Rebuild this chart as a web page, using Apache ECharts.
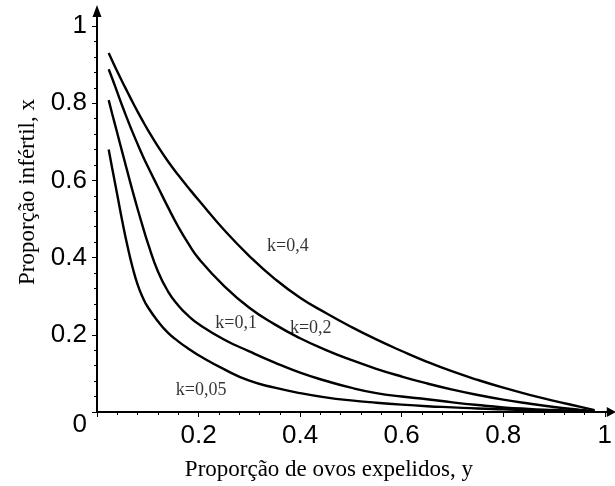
<!DOCTYPE html>
<html>
<head>
<meta charset="utf-8">
<script src="https://cdn.jsdelivr.net/npm/echarts@6/dist/echarts.min.js"></script>
<style>
  html, body { margin: 0; padding: 0; background: #fff; }
  #chart { width: 615px; height: 486px; }
</style>
</head>
<body>
<div id="chart"></div>
<script>
// Proportion of eggs expelled (y) – shared abscissa for every curve
const propExpelled = [0.023, 0.03, 0.04, 0.05, 0.06, 0.07, 0.08, 0.09, 0.10, 0.12, 0.14, 0.16, 0.18, 0.20,
  0.25, 0.30, 0.35, 0.40, 0.45, 0.50, 0.55, 0.60, 0.65, 0.70, 0.75, 0.80, 0.85, 0.90, 0.95, 0.98];

// Infertile proportion (x) for each aggregation parameter k
const infertileK040 = [0.930, 0.910, 0.882, 0.855, 0.829, 0.803, 0.778, 0.754, 0.731, 0.688, 0.649, 0.614, 0.581, 0.549,
  0.472, 0.404, 0.345, 0.296, 0.257, 0.221, 0.188, 0.158, 0.130, 0.105, 0.083, 0.063, 0.045, 0.029, 0.014, 0.005];
const infertileK020 = [0.888, 0.864, 0.828, 0.792, 0.758, 0.725, 0.694, 0.664, 0.636, 0.583, 0.530, 0.480, 0.436, 0.398,
  0.327, 0.270, 0.227, 0.191, 0.161, 0.135, 0.112, 0.092, 0.074, 0.058, 0.044, 0.032, 0.022, 0.013, 0.006, 0.002];
const infertileK010 = [0.808, 0.772, 0.722, 0.672, 0.622, 0.573, 0.526, 0.481, 0.438, 0.364, 0.312, 0.276, 0.249, 0.228,
  0.188, 0.157, 0.128, 0.102, 0.081, 0.063, 0.049, 0.040, 0.033, 0.025, 0.018, 0.012, 0.008, 0.005, 0.002, 0.001];
const infertileK005 = [0.680, 0.631, 0.562, 0.493, 0.430, 0.375, 0.330, 0.297, 0.272, 0.235, 0.205, 0.183, 0.164, 0.147,
  0.111, 0.081, 0.063, 0.049, 0.038, 0.030, 0.024, 0.019, 0.015, 0.012, 0.009, 0.007, 0.005, 0.003, 0.002, 0.001];

const curveNames = ['k=0,4', 'k=0,2', 'k=0,1', 'k=0,05'];
const curveValues = [infertileK040, infertileK020, infertileK010, infertileK005];

// Anchor of each curve caption, in data units [y, x]
const captionAnchors = [[0.376, 0.429], [0.421, 0.218], [0.274, 0.229], [0.205, 0.057]];

// Tick labels
const xTickLabels = [0.2, 0.4, 0.6, 0.8, 1];
const yTickLabels = [0, 0.2, 0.4, 0.6, 0.8, 1];
const majorTicks = [0, 0.2, 0.4, 0.6, 0.8, 1];

const tickFont = 'Liberation Sans, Arial, sans-serif';
const serifFont = 'Liberation Serif, Times New Roman, serif';

// Arrow heads drawn as axis-line end symbols (head plus a short stem)
const yArrow = 'path://M4.5,0 L9,12 L5.5,12 L5.5,21 L3.5,21 L3.5,12 L0,12 Z';
const xArrow = 'path://M5,0 L10,9 L6,9 L6,11 L4,11 L4,9 L0,9 Z';

const chart = echarts.init(document.getElementById('chart'), null, { renderer: 'canvas' });

const lineSeries = curveNames.map((name, i) => ({
  name: name,
  type: 'line',
  data: propExpelled.map((v, j) => [v, curveValues[i][j]]),
  showSymbol: false,
  smooth: 0.5,
  lineStyle: { color: '#000', width: 2.4 },
  silent: true,
  z: 3
}));

const captionSeries = {
  type: 'scatter',
  symbolSize: 0,
  silent: true,
  z: 5,
  data: curveNames.map((name, i) => ({ name: name, value: captionAnchors[i] })),
  label: {
    show: true,
    position: 'inside',
    formatter: '{b}',
    color: '#000',
    fontFamily: serifFont,
    fontSize: 18
  }
};

chart.setOption({
  animation: false,
  backgroundColor: '#fff',
  grid: { left: 97, right: 10, top: 26, bottom: 74, containLabel: false },
  xAxis: {
    type: 'value',
    min: 0, max: 1, interval: 0.2,
    name: 'Proporção de ovos expelidos, y',
    nameLocation: 'middle',
    nameGap: 46,
    nameTextStyle: { fontFamily: serifFont, fontSize: 23, color: '#000', padding: [0, 44, 0, 0] },
    axisLine: {
      show: true, onZero: false,
      lineStyle: { color: '#000', width: 2 },
      symbol: ['none', xArrow], symbolSize: [10, 11], symbolOffset: [0, 5.5]
    },
    axisTick: { show: true, length: 5, customValues: majorTicks, lineStyle: { color: '#000', width: 1 } },
    minorTick: { show: true, splitNumber: 5, length: 3, lineStyle: { color: '#000', width: 1 } },
    axisLabel: {
      customValues: xTickLabels,
      margin: 11,
      color: '#000', fontFamily: tickFont, fontSize: 26,
      formatter: v => String(v)
    },
    splitLine: { show: false }
  },
  yAxis: {
    type: 'value',
    min: 0, max: 1, interval: 0.2,
    name: 'Proporção infértil, x',
    nameLocation: 'middle',
    nameRotate: 90,
    nameGap: 58,
    nameTextStyle: { fontFamily: serifFont, fontSize: 23, color: '#000', padding: [0, 0, 0, 54] },
    axisLine: {
      show: true, onZero: false,
      lineStyle: { color: '#000', width: 2 },
      symbol: ['none', yArrow], symbolSize: [9, 21], symbolOffset: [0, 10.5]
    },
    axisTick: { show: true, length: 5, customValues: majorTicks, lineStyle: { color: '#000', width: 1 } },
    minorTick: { show: true, splitNumber: 5, length: 3, lineStyle: { color: '#000', width: 1 } },
    axisLabel: {
      customValues: yTickLabels,
      margin: 10,
      color: '#000', fontFamily: tickFont, fontSize: 26,
      formatter: v => (v === 0 ? '{o|0}' : String(v)),
      rich: { o: { padding: [26, 0, 0, 0], fontFamily: tickFont, fontSize: 26, color: '#000' } }
    },
    splitLine: { show: false }
  },
  series: lineSeries.concat([captionSeries])
});
</script>
</body>
</html>
